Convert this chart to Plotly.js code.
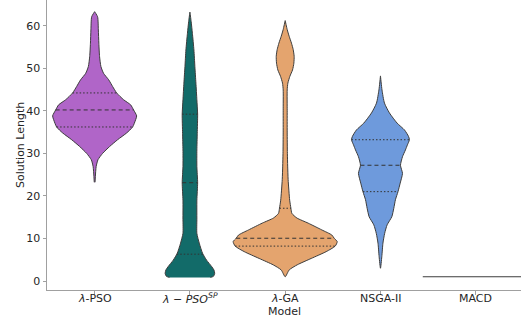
<!DOCTYPE html>
<html>
<head>
<meta charset="utf-8">
<script src="https://cdn.plot.ly/plotly-3.0.1.min.js"></script>
<style>html,body{margin:0;padding:0;background:#fff}#chart{width:521px;height:321px}</style>
</head>
<body>
<div id="chart"></div>
<script>
// Categories and tick labels
const categories = ['λ-PSO', 'λ-PSO^SP', 'λ-GA', 'NSGA-II', 'MACD'];
const tickLabels = ['<i>λ</i>-PSO', '<i>λ − PSO<sup>SP</sup></i>', '<i>λ</i>-GA', 'NSGA-II', 'MACD'];
const yTicks = [0, 10, 20, 30, 40, 50, 60];
const xTitle = 'Model';
const yTitle = 'Solution Length';

// Density profiles: solution length levels and half-width (category units)
const psoY = [23.2, 26.9, 28.5, 30.0, 31.6, 33.2, 34.8, 36.2, 37.9, 38.8, 40.2, 41.4, 42.6, 44.2, 45.7, 47.3, 48.8, 50.4, 52.7, 55.9, 59.0, 62.1, 63.3];
const psoW = [0.004, 0.016, 0.035, 0.084, 0.157, 0.241, 0.336, 0.399, 0.430, 0.441, 0.409, 0.378, 0.304, 0.231, 0.189, 0.147, 0.094, 0.066, 0.052, 0.044, 0.039, 0.031, 0];
const psoQ = [36.2, 40.2, 44.2];

const spY = [0.85, 1.1, 1.8, 2.6, 3.4, 4.9, 6.5, 8.9, 11.2, 14.4, 19.0, 23.1, 26.9, 30.8, 34.7, 39.2, 42.6, 46.5, 50.4, 54.3, 58.2, 61.0, 63.2];
const spW = [0.215, 0.247, 0.260, 0.252, 0.228, 0.175, 0.133, 0.098, 0.073, 0.073, 0.073, 0.081, 0.073, 0.073, 0.077, 0.081, 0.073, 0.063, 0.052, 0.042, 0.026, 0.013, 0];
const spQ = [6.3, 23.1, 39.2];

const gaY = [1.0, 2.6, 3.8, 5.3, 6.9, 8.2, 9.25, 10.05, 10.8, 12.0, 13.6, 14.8, 15.9, 17.1, 19.0, 23.8, 27.0, 30.0, 35.0, 40.0, 44.9, 46.5, 48.1, 49.6, 51.2, 52.8, 54.4, 55.9, 57.5, 59.1, 61.2];
const gaW = [0, 0.042, 0.126, 0.273, 0.430, 0.525, 0.546, 0.514, 0.490, 0.385, 0.241, 0.123, 0.070, 0.060, 0.047, 0.031, 0.026, 0.023, 0.021, 0.021, 0.021, 0.028, 0.049, 0.077, 0.091, 0.094, 0.084, 0.066, 0.042, 0.021, 0];
const gaQ = [8.2, 10.05, 17.1];

const nsgaY = [3.0, 5.7, 8.9, 11.2, 13.2, 15.1, 17.1, 19.1, 21.0, 23.0, 25.3, 27.2, 29.2, 30.8, 32.0, 33.2, 34.0, 35.5, 37.1, 39.5, 41.8, 44.9, 48.2];
const nsgaW = [0, 0.014, 0.026, 0.044, 0.070, 0.119, 0.140, 0.157, 0.184, 0.207, 0.231, 0.210, 0.231, 0.262, 0.283, 0.304, 0.294, 0.252, 0.175, 0.094, 0.042, 0.016, 0];
const nsgaQ = [21.0, 27.2, 33.2];

// MACD: every run has the same length
const macdValue = [1.0];
const macdHalfWidth = 0.556;

const colors = ['#b065c8', '#126b69', '#e4a46e', '#6e9adc', '#3d3d3d'];
const outline = '#3d3d3d';

const violins = [
  {y: psoY, w: psoW, q: psoQ},
  {y: spY, w: spW, q: spQ},
  {y: gaY, w: gaW, q: gaQ},
  {y: nsgaY, w: nsgaW, q: nsgaQ}
];

function interp(ys, ws, v) {
  for (let i = 0; i < ys.length - 1; i++) {
    if (v >= ys[i] && v <= ys[i + 1]) {
      const t = (v - ys[i]) / (ys[i + 1] - ys[i]);
      return ws[i] + t * (ws[i + 1] - ws[i]);
    }
  }
  return 0;
}

const traces = [];
violins.forEach((v, i) => {
  const xs = [], ys = [];
  for (let k = 0; k < v.y.length; k++) { xs.push(i + v.w[k]); ys.push(v.y[k]); }
  for (let k = v.y.length - 1; k >= 0; k--) { xs.push(i - v.w[k]); ys.push(v.y[k]); }
  traces.push({
    type: 'scatter', mode: 'lines', x: xs, y: ys, fill: 'toself',
    fillcolor: colors[i], line: {color: outline, width: 1, shape: 'spline', smoothing: 0.6},
    hoverinfo: 'skip', showlegend: false
  });
  v.q.forEach((qv, j) => {
    const hw = interp(v.y, v.w, qv);
    traces.push({
      type: 'scatter', mode: 'lines', x: [i - hw, i + hw], y: [qv, qv],
      line: {color: '#333', width: 1, dash: j === 1 ? '4px,3px' : '1.5px,2px'},
      hoverinfo: 'skip', showlegend: false
    });
  });
});

traces.push({
  type: 'scatter', mode: 'lines',
  x: [4 - macdHalfWidth, 4 + macdHalfWidth], y: [macdValue[0], macdValue[0]],
  line: {color: colors[4], width: 1.2}, hoverinfo: 'skip', showlegend: false
});

const annotations = [
  {text: xTitle, xref: 'paper', yref: 'paper', x: 0.5, y: -0.073, xanchor: 'center', yanchor: 'middle',
   showarrow: false, font: {size: 11, color: '#262626'}},
  {text: yTitle, xref: 'paper', yref: 'paper', x: -0.057, y: 0.5, xanchor: 'center', yanchor: 'middle',
   textangle: -90, showarrow: false, font: {size: 11, color: '#262626'}}
];
tickLabels.forEach((t, i) => {
  annotations.push({text: t, xref: 'x', yref: 'paper', x: i, y: -0.028, xanchor: 'center', yanchor: 'middle',
    showarrow: false, font: {size: 11, color: '#262626'}});
});

const layout = {
  width: 521, height: 321,
  margin: {l: 47, r: 0, t: 0, b: 31, pad: 0},
  paper_bgcolor: '#fff', plot_bgcolor: '#fff',
  font: {family: 'DejaVu Sans, sans-serif', size: 11, color: '#262626'},
  xaxis: {
    range: [-0.5, 4.475], tickmode: 'array', tickvals: [0, 1, 2, 3, 4], showticklabels: false,
    showgrid: false, zeroline: false, showline: true, linecolor: '#a0a0a0', linewidth: 1,
    ticks: 'outside', ticklen: 3.5, tickcolor: '#a0a0a0', automargin: false
  },
  yaxis: {
    range: [-2.115, 66.04], tickmode: 'array', tickvals: yTicks,
    showgrid: false, zeroline: false, showline: true, linecolor: '#a0a0a0', linewidth: 1,
    ticks: 'outside', ticklen: 3.5, tickcolor: '#a0a0a0', automargin: false
  },
  annotations: annotations
};

Plotly.newPlot('chart', traces, layout, {displayModeBar: false, staticPlot: true});
</script>
</body>
</html>
